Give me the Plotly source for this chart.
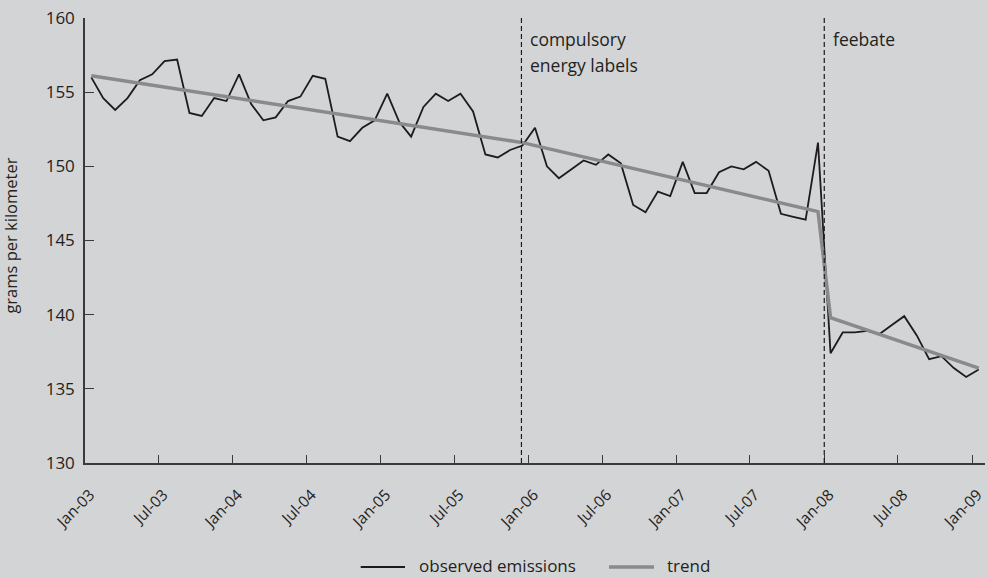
import pandas as pd
import plotly.graph_objects as go

# ---- data -------------------------------------------------------------
months = pd.date_range("2003-01-01", "2009-01-01", freq="MS")

observed = [
    156.0, 154.6, 153.8, 154.6, 155.8, 156.2, 157.1, 157.2, 153.6, 153.4, 154.6, 154.4,  # 2003
    156.2, 154.2, 153.1, 153.3, 154.4, 154.7, 156.1, 155.9, 152.0, 151.7, 152.6, 153.1,  # 2004
    154.9, 153.0, 152.0, 154.0, 154.9, 154.4, 154.9, 153.7, 150.8, 150.6, 151.1, 151.4,  # 2005
    152.6, 150.0, 149.2, 149.8, 150.4, 150.1, 150.8, 150.2, 147.4, 146.9, 148.3, 148.0,  # 2006
    150.3, 148.2, 148.2, 149.6, 150.0, 149.8, 150.3, 149.7, 146.8, 146.6, 146.4, 151.6,  # 2007
    137.4, 138.8, 138.8, 138.9, 138.7, 139.3, 139.9, 138.6, 137.0, 137.2, 136.4, 135.8,  # 2008
    136.3,                                                                                # 2009
]

trend_dates = ["2003-01-01", "2005-12-01", "2007-12-01", "2008-01-01", "2009-01-01"]
trend_values = [156.1, 151.6, 146.95, 139.8, 136.4]

event_dates = ["2005-12-14", "2008-01-01"]
event_labels = [["compulsory", "energy labels"], ["feebate"]]

tick_dates = pd.date_range("2003-01-01", "2009-01-01", freq="6MS")

y_ticks = [130, 135, 140, 145, 150, 155, 160]

series_names = ["observed emissions", "trend"]

# ---- styling ----------------------------------------------------------
BG = "#d3d4d6"
AXIS = "#3a3a3a"
FONT = "Open Sans"
TXT = "#231f20"
OBS_COLOR = "#1e1b1c"
TREND_COLOR = "#8a8a8a"
OBS_W = 1.8
TREND_W = 3.5

fig = go.Figure()

fig.add_trace(go.Scatter(
    x=months, y=observed, mode="lines", name=series_names[0],
    xperiod="M1", xperiodalignment="middle",
    line=dict(color=OBS_COLOR, width=OBS_W), showlegend=False,
))
fig.add_trace(go.Scatter(
    x=trend_dates, y=trend_values, mode="lines", name=series_names[1],
    xperiod="M1", xperiodalignment="middle",
    line=dict(color=TREND_COLOR, width=TREND_W), showlegend=False,
))

for d in event_dates:
    fig.add_shape(type="line", xref="x", yref="paper", x0=d, x1=d, y0=0, y1=1,
                  line=dict(color=OBS_COLOR, width=1.2, dash="5px,3px"))

# event annotations
line_y = [158.58, 156.83]
for d, lines in zip(event_dates, event_labels):
    for k, txt in enumerate(lines):
        fig.add_annotation(x=d, y=line_y[k], xref="x", yref="y", text=txt,
                           showarrow=False, xanchor="left", yanchor="middle",
                           xshift=7, font=dict(family=FONT, size=17.5, color=TXT))

# y-axis title as annotation
fig.add_annotation(x=(11 - 85) / 900.0, y=0.511, xref="paper", yref="paper",
                   text="grams per kilometer", textangle=-90, showarrow=False,
                   xanchor="center", yanchor="middle", borderpad=0,
                   font=dict(family=FONT, size=16.5, color=TXT))

# custom legend (paper coordinates, below the plot)
PW = 900.0
PH = 445.0
def px_x(p):
    return (p - 85) / PW
def px_y(p):
    return (463 - p) / PH

leg_line_y = px_y(567.0)
leg_text_y = px_y(565.5)
legend_items = [
    (series_names[0], OBS_COLOR, OBS_W, 360.7, 405, 418),
    (series_names[1], TREND_COLOR, TREND_W, 609, 654, 666),
]
for name, col, w, lx0, lx1, tx in legend_items:
    fig.add_shape(type="line", xref="paper", yref="paper",
                  x0=px_x(lx0), x1=px_x(lx1), y0=leg_line_y, y1=leg_line_y,
                  line=dict(color=col, width=w))
    fig.add_annotation(x=px_x(tx), y=leg_text_y, xref="paper", yref="paper", text=name,
                       showarrow=False, xanchor="left", yanchor="middle", borderpad=0,
                       font=dict(family=FONT, size=17, color=TXT))

fig.update_xaxes(
    type="date", range=["2003-01-01", "2009-02-01"], automargin=False,
    tickvals=tick_dates, tickformat="%b-%y", tickangle=-45,
    ticks="inside", ticklen=8, tickwidth=1.3, tickcolor=AXIS,
    showline=True, linecolor=AXIS, linewidth=1.5, showgrid=False, zeroline=False,
    tickfont=dict(family=FONT, size=15.5, color=TXT),
    ticklabelstandoff=15, ticklabelshift=5, ticklabeloverflow="allow",
)
fig.update_yaxes(
    range=[130, 160], tickvals=y_ticks, automargin=False,
    ticks="inside", ticklen=9, tickwidth=1.3, tickcolor=AXIS,
    showline=True, linecolor=AXIS, linewidth=1.5, showgrid=False, zeroline=False,
    tickfont=dict(family=FONT, size=17, color=TXT), ticklabelstandoff=5,
)

fig.update_layout(
    width=987, height=577,
    margin=dict(l=85, r=2, t=18, b=114, autoexpand=False),
    paper_bgcolor=BG, plot_bgcolor=BG,
    showlegend=False,
    font=dict(family=FONT, color=TXT),
)

fig.write_html("out.html", config={"displayModeBar": False},
               post_script="document.body.style.margin='0px';")
